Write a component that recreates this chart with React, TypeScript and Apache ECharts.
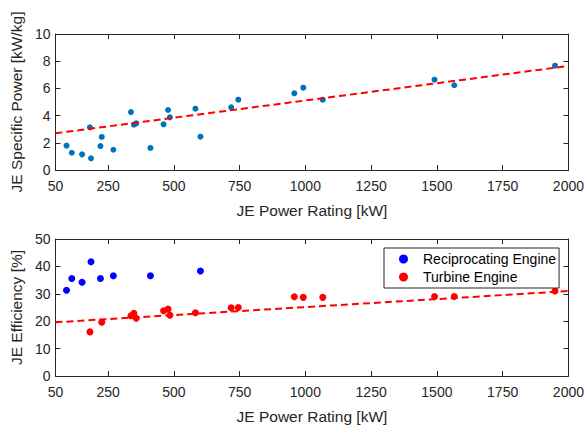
import React, { useEffect, useRef } from "react";
import * as echarts from "echarts";

// Top chart: specific power vs power rating
const topPower = [92, 112, 151, 181, 185, 221, 226, 270, 337, 348, 357, 411, 461, 478, 485, 582, 601, 718, 745, 958, 992, 1066, 1491, 1566, 1949];
const topSpecific = [1.79, 1.27, 1.15, 3.14, 0.86, 1.76, 2.43, 1.49, 4.26, 3.33, 3.43, 1.62, 3.36, 4.41, 3.87, 4.51, 2.45, 4.61, 5.17, 5.64, 6.05, 5.17, 6.64, 6.23, 7.67];
const topFitX = [50, 2000];
const topFitY = [2.7, 7.65];

// Bottom chart: efficiency
const recipPower = [92, 112, 151, 185, 221, 270, 411, 601];
const recipEff = [31.3, 35.6, 34.2, 41.7, 35.6, 36.6, 36.6, 38.3];
const turbPower = [181, 226, 337, 348, 357, 461, 478, 485, 582, 718, 745, 958, 992, 1066, 1491, 1566, 1949];
const turbEff = [16.1, 19.6, 22.0, 22.9, 21.1, 23.8, 24.4, 22.2, 23.1, 24.9, 25.0, 28.9, 28.7, 28.7, 29.0, 29.0, 31.0];
const botFitX = [50, 2000];
const botFitY = [19.6, 31.0];

const xTicks = [50, 250, 500, 750, 1000, 1250, 1500, 1750, 2000];
const xTitle = "JE Power Rating [kW]";
const yTitleTop = "JE Specific Power [kW/kg]";
const yTitleBot = "JE Efficiency [%]";
const seriesNames = ["Reciprocating Engine", "Turbine Engine"];

const zip = (a: number[], b: number[]) => a.map((v, i) => [v, b[i]]);

const FONT = "Liberation Sans, Arial, Helvetica, sans-serif";
const AX = "#262626";

function xAxisDef(gridIndex: number, main: boolean) {
  return {
    type: "value",
    gridIndex,
    min: 50,
    max: 2000,
    position: main ? "bottom" : "top",
    name: main ? xTitle : "",
    nameLocation: "middle",
    nameGap: 32,
    nameTextStyle: { fontSize: 15.5, color: AX, fontFamily: FONT },
    axisLine: { show: true, onZero: false, lineStyle: { color: AX, width: 1 } },
    axisTick: { show: true, inside: true, length: 5, customValues: xTicks, lineStyle: { color: AX } },
    axisLabel: {
      show: main,
      customValues: xTicks,
      fontSize: 14,
      color: AX,
      fontFamily: FONT,
      margin: 9,
      formatter: (v: number) => String(v),
    },
    splitLine: { show: false },
  };
}

function yAxisDef(gridIndex: number, main: boolean, max: number, interval: number, title: string) {
  return {
    type: "value",
    gridIndex,
    min: 0,
    max,
    interval,
    position: main ? "left" : "right",
    name: main ? title : "",
    nameLocation: "middle",
    nameGap: 26,
    nameTextStyle: { fontSize: 15.5, color: AX, fontFamily: FONT },
    axisLine: { show: true, onZero: false, lineStyle: { color: AX, width: 1 } },
    axisTick: { show: true, inside: true, length: 5, lineStyle: { color: AX } },
    axisLabel: { show: main, fontSize: 14, color: AX, fontFamily: FONT, margin: 5, formatter: (v: number) => String(v) },
    splitLine: { show: false },
  };
}

export default function App() {
  const ref = useRef<HTMLDivElement>(null);
  useEffect(() => {
    document.body.style.margin = "0";
    const chart = echarts.init(ref.current!, null, { renderer: "svg" });
    chart.setOption({
      animation: false,
      backgroundColor: "#ffffff",
      textStyle: { fontFamily: FONT },
      grid: [
        { left: 53, top: 34, width: 517, height: 136 },
        { left: 53, top: 239, width: 517, height: 137 },
      ],
      xAxis: [xAxisDef(0, true), xAxisDef(0, false), xAxisDef(1, true), xAxisDef(1, false)],
      yAxis: [
        yAxisDef(0, true, 10, 2, yTitleTop),
        yAxisDef(0, false, 10, 2, ""),
        yAxisDef(1, true, 50, 10, yTitleBot),
        yAxisDef(1, false, 50, 10, ""),
      ],
      legend: {
        orient: "vertical",
        left: 384,
        top: 248,
        data: seriesNames,
        icon: "circle",
        itemWidth: 9,
        itemHeight: 9,
        itemGap: 2,
        padding: [3, 3, 3, 15],
        borderColor: AX,
        borderWidth: 1,
        backgroundColor: "#ffffff",
        textStyle: { fontSize: 14, color: "#000", fontFamily: FONT, padding: [0, 0, 0, 10], lineHeight: 16 },
      },
      series: [
        {
          name: "top",
          type: "scatter",
          xAxisIndex: 0,
          yAxisIndex: 0,
          data: zip(topPower, topSpecific),
          symbolSize: 6,
          itemStyle: { color: "#0072BD", opacity: 1 },
        },
        {
          name: "topFit",
          type: "line",
          xAxisIndex: 0,
          yAxisIndex: 0,
          data: zip(topFitX, topFitY),
          symbol: "none",
          lineStyle: { color: "#FF0000", width: 2, type: [7, 4] },
          z: 3,
        },
        {
          name: seriesNames[0],
          type: "scatter",
          xAxisIndex: 2,
          yAxisIndex: 2,
          data: zip(recipPower, recipEff),
          symbolSize: 7,
          itemStyle: { color: "#0000FF", opacity: 1 },
        },
        {
          name: seriesNames[1],
          type: "scatter",
          xAxisIndex: 2,
          yAxisIndex: 2,
          data: zip(turbPower, turbEff),
          symbolSize: 7,
          itemStyle: { color: "#FF0000", opacity: 1 },
        },
        {
          name: "botFit",
          type: "line",
          xAxisIndex: 2,
          yAxisIndex: 2,
          data: zip(botFitX, botFitY),
          symbol: "none",
          lineStyle: { color: "#FF0000", width: 2, type: [7, 4] },
          z: 3,
        },
      ],
    });
    return () => chart.dispose();
  }, []);
  return <div ref={ref} style={{ width: 587, height: 430 }} />;
}
